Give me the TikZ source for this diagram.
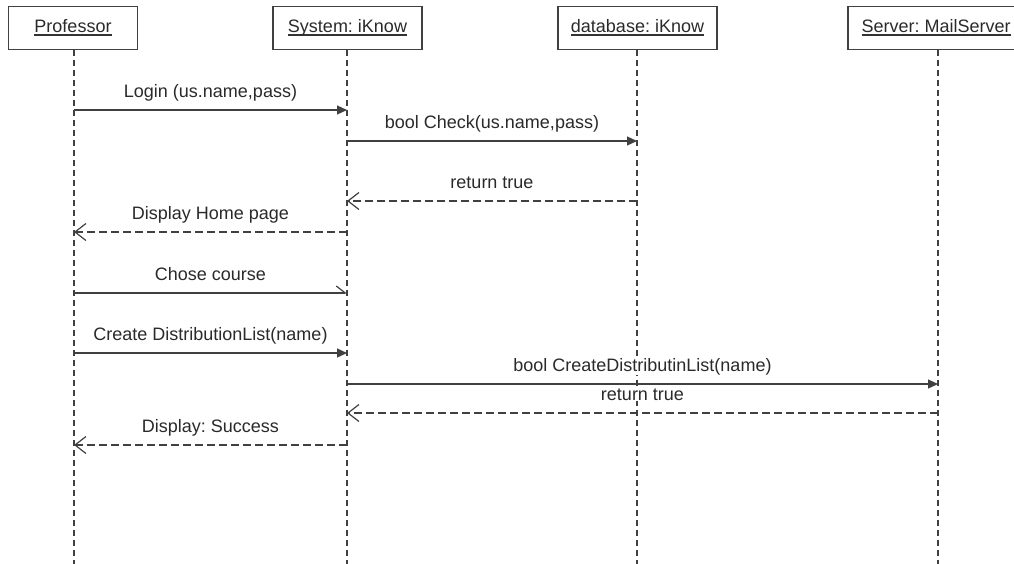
\documentclass[tikz,border=0pt]{standalone}
\usepackage{fontspec}
\setmainfont{Liberation Sans}
\usetikzlibrary{arrows.meta}
% underline with a fixed offset below the baseline
\newcommand\uln[1]{\setbox0\hbox{#1}\rlap{\color{black!80}\rule[-3pt]{\wd0}{1.1pt}}\box0}
\definecolor{ink}{HTML}{2A2A2A}
\definecolor{wire}{HTML}{404040}
\begin{document}
\begin{tikzpicture}[x=1pt,y=-1pt,
  every node/.style={font=\fontsize{18}{22}\selectfont\frenchspacing, text=ink},
  objbox/.style={draw=wire, line width=1.2pt, minimum height=43pt, inner sep=0pt,
    text height=13pt, text depth=4pt},
  lifeline/.style={draw=wire, line width=1.2pt, dash pattern=on 6pt off 4pt},
  call/.style={draw=wire, line width=1.2pt, -{Triangle[length=10pt,width=9pt]}},
  plainmsg/.style={draw=wire, line width=1.2pt, -{Straight Barb[harpoon,length=9pt,width=14pt]}},
  reply/.style={draw=wire, line width=1.2pt, dash pattern=on 8pt off 4pt, -{Straight Barb[length=11pt,width=17pt]}},
  msglabel/.style={midway, anchor=base, yshift=13pt, fill=white, inner sep=0.5pt}]
\useasboundingbox (0,0) rectangle (1014,563);
\clip (0,0) rectangle (1014,563);

% objects
\node[objbox, minimum width=129pt] (prof) at (73,28) {\uln{Professor}};
\node[objbox, minimum width=149pt] (sys)  at (347.5,28) {\uln{System: iKnow}};
\node[objbox, minimum width=159pt] (db)   at (637.5,28) {\uln{database: iKnow}};
% the last object box runs past the right edge
\node[objbox, draw=none, anchor=west, inner sep=0pt] (mail) at (861,28) {\uln{Server: MailServer}};
\draw[draw=wire, line width=1.2pt] (1030,6.5) -| (848,49.5) -- (1030,49.5);
\coordinate (mailx) at (937.5,49.5);

% lifeline ends
\coordinate (profend) at (74,565);
\coordinate (sysend)  at (347,565);
\coordinate (dbend)   at (637,565);
\coordinate (mailend) at (938,565);

\draw[lifeline] (prof.south -| profend) -- (profend);
\draw[lifeline] (sys.south -| sysend) -- (sysend);
\draw[lifeline] (db.south -| dbend) -- (dbend);
\draw[lifeline] (mailx -| mailend) -- (mailend);

% message end points on the lifelines
\coordinate (p1) at (74,110);  \coordinate (s1) at (347,110);
\coordinate (s2) at (347,141); \coordinate (d2) at (637,141);
\coordinate (d3) at (637,201); \coordinate (s3) at (347,201);
\coordinate (s4) at (347,232); \coordinate (p4) at (74,232);
\coordinate (p5) at (74,293);  \coordinate (s5) at (347,293);
\coordinate (p6) at (74,353);  \coordinate (s6) at (347,353);
\coordinate (s7) at (347,384); \coordinate (m7) at (938,384);
\coordinate (m8) at (938,413); \coordinate (s8) at (347,413);
\coordinate (s9) at (347,445); \coordinate (p9) at (74,445);

% messages
\draw[call] (p1) -- node[msglabel] {Login (us.name,pass)} (s1);
\draw[call] (s2) -- node[msglabel] {bool Check(us.name,pass)} (d2);
\draw[reply] (d3) -- node[msglabel] {return true} (s3);
\draw[reply] (s4) -- node[msglabel] {Display Home page} (p4);
\draw[plainmsg] (p5) -- node[msglabel] {Chose course} (s5);
\draw[call] (p6) -- node[msglabel] {Create DistributionList(name)} (s6);
\draw[call] (s7) -- node[msglabel] {bool CreateDistributinList(name)} (m7);
\draw[reply] (m8) -- node[msglabel] {return true} (s8);
\draw[reply] (s9) -- node[msglabel] {Display: Success} (p9);
\end{tikzpicture}
\end{document}
